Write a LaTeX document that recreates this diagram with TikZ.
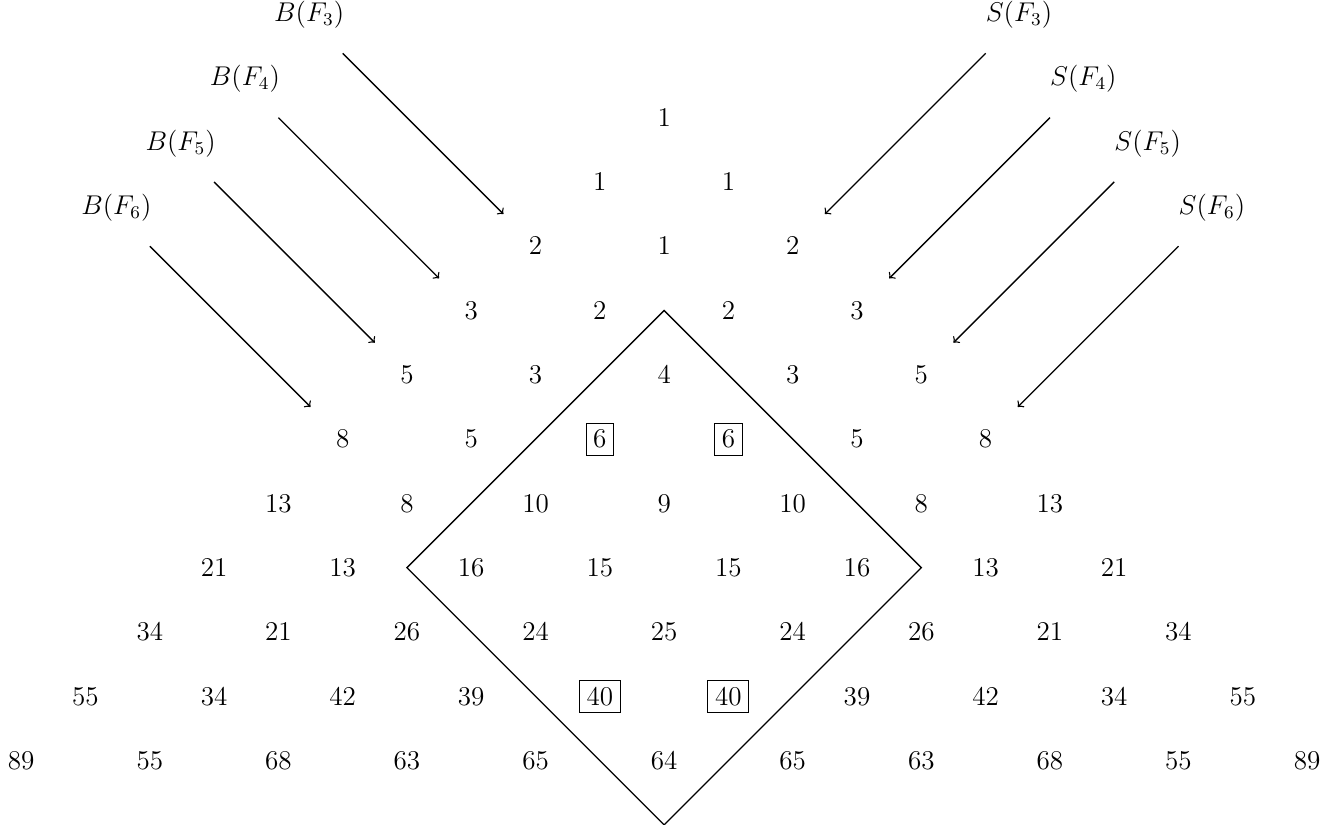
\documentclass[tikz,border=0pt]{standalone}
\begin{document}
\begin{tikzpicture}[
  every node/.style={font=\large},
  num/.style={inner sep=3pt},
  conn/.style={->, semithick},
  diam/.style={semithick, line join=miter}
]
\useasboundingbox (-10.33,-11.0) rectangle (10.45,1.83);
\foreach \r/\lst in {0/{1},1/{1,1},2/{2,1,2},3/{3,2,2,3},4/{5,3,4,3,5},
  5/{8,5,6,6,5,8},6/{13,8,10,9,10,8,13},7/{21,13,16,15,15,16,13,21},
  8/{34,21,26,24,25,24,26,21,34},9/{55,34,42,39,40,40,39,42,34,55},
  10/{89,55,68,63,65,64,65,63,68,55,89}}{
  \foreach \v [count=\k from 0] in \lst {
    \node[num] (h-\r-\k) at ({2*\k-\r},{-\r}) {$\v$};
  }
}
% boxed entries
\foreach \n in {h-5-2,h-5-3,h-9-4,h-9-5}{
  \draw[thin] (\n.south west) rectangle (\n.north east);
}
% diamond
\coordinate (dt) at (0,-3);
\coordinate (dr) at (4,-7);
\coordinate (db) at (0,-11);
\coordinate (dl) at (-4,-7);
\draw[diam] (dt) -- (dr) -- (db) -- (dl) -- cycle;
% B labels and arrows
\foreach \i/\s in {3/0,4/1,5/2,6/3}{
  \node (B\i) at ({-5.52-\s},{1.6-\s}) {$B(F_{\i})$};
  \coordinate (bs\i) at ({-5-\s},{1-\s});
  \coordinate (be\i) at ({-2.5-\s},{-1.5-\s});
  \draw[conn] (bs\i) -- (be\i);
  \node (S\i) at ({5.52+\s},{1.6-\s}) {$S(F_{\i})$};
  \coordinate (ss\i) at ({5+\s},{1-\s});
  \coordinate (se\i) at ({2.5+\s},{-1.5-\s});
  \draw[conn] (ss\i) -- (se\i);
}
\end{tikzpicture}
\end{document}
